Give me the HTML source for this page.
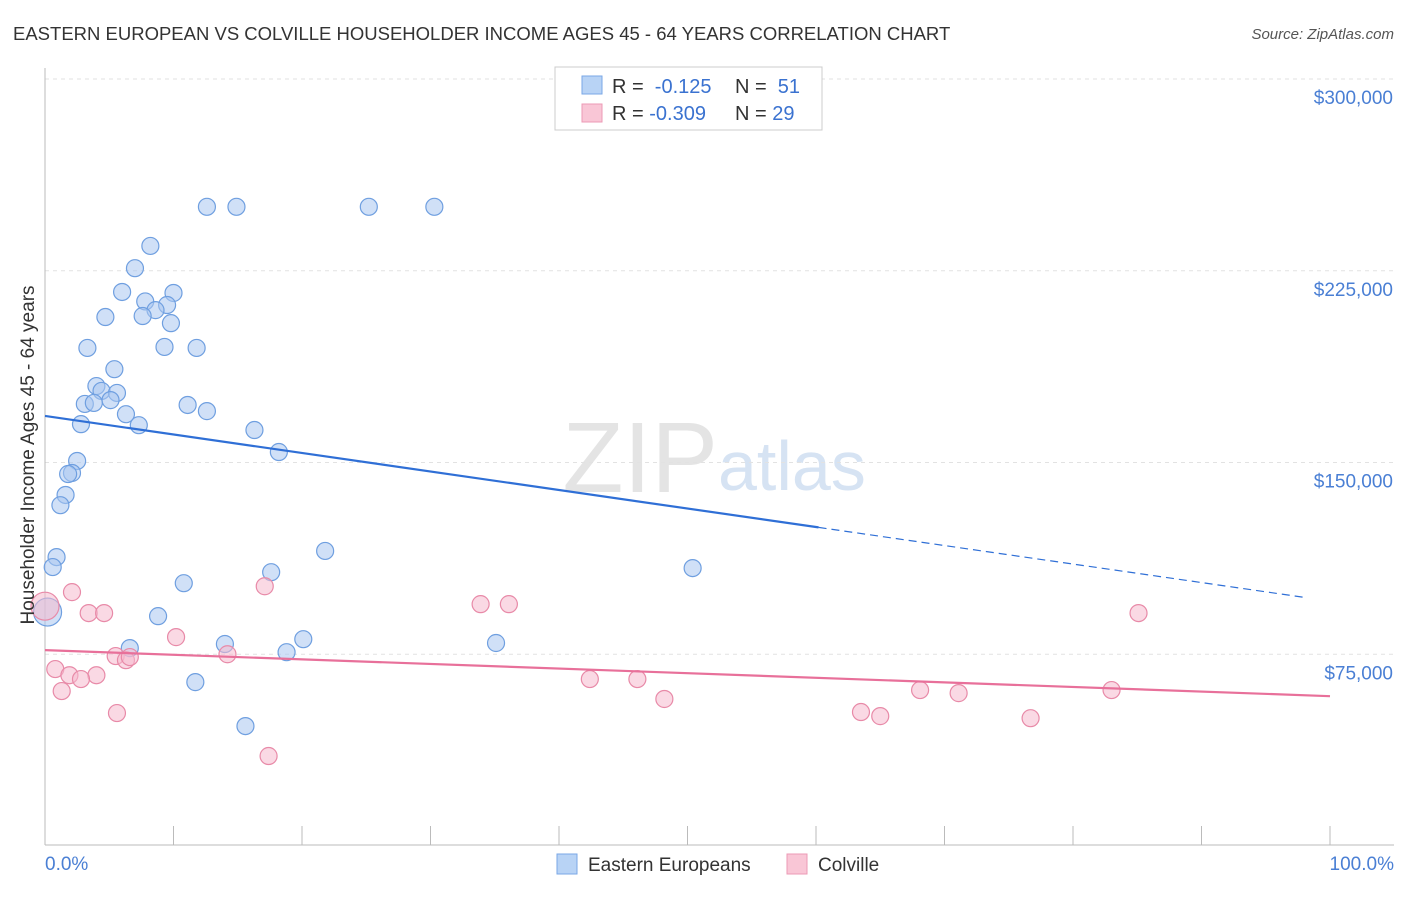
<!DOCTYPE html>
<html><head><meta charset="utf-8"><style>
body{margin:0;background:#fff;font-family:"Liberation Sans",Arial,sans-serif}
svg text{font-family:"Liberation Sans",Arial,sans-serif}
</style></head><body>
<svg id="c" width="1406" height="892" xmlns="http://www.w3.org/2000/svg">
<text x="13" y="40" font-size="18.5" fill="#333">EASTERN EUROPEAN VS COLVILLE HOUSEHOLDER INCOME AGES 45 - 64 YEARS CORRELATION CHART</text>
<text x="1394" y="39" font-size="15" fill="#555" text-anchor="end" font-style="italic">Source: ZipAtlas.com</text>
<text x="718" y="492" font-size="100" fill="#e4e4e4" text-anchor="end" font-family="Liberation Serif">ZIP</text>
<text x="718" y="490" font-size="70" fill="#d6e3f3">atlas</text>
<g id="grid"></g><g id="marks"></g>
<text transform="translate(34,455) rotate(-90)" font-size="19" fill="#333" text-anchor="middle">Householder Income Ages 45 - 64 years</text>
<text x="45" y="870" font-size="19" fill="#4a7fd4">0.0%</text>
<text x="1394" y="870" font-size="19" fill="#4a7fd4" text-anchor="end">100.0%</text>
<g>
<rect x="555" y="67" width="267" height="63" fill="#fff" stroke="#ccc"/>
<rect x="582" y="76" width="20" height="18" fill="#b8d3f5" stroke="#7aa7e6"/>
<rect x="582" y="104" width="20" height="18" fill="#f9c6d6" stroke="#ec9ab5"/>
<text x="612" y="93" font-size="20" fill="#333">R = <tspan fill="#3a72d0">&#160;-0.125</tspan><tspan x="735">N = </tspan><tspan fill="#3a72d0">&#160;51</tspan></text>
<text x="612" y="120" font-size="20" fill="#333">R = <tspan fill="#3a72d0">-0.309</tspan><tspan x="735">N = </tspan><tspan fill="#3a72d0">29</tspan></text>
</g>
<g>
<rect x="557" y="854" width="20" height="20" fill="#b8d3f5" stroke="#7aa7e6"/>
<text x="588" y="871" font-size="19" fill="#333">Eastern Europeans</text>
<rect x="787" y="854" width="20" height="20" fill="#f9c6d6" stroke="#ec9ab5"/>
<text x="818" y="871" font-size="19" fill="#333">Colville</text>
</g>
</svg>
<script>
const yTicks=[75000,150000,225000,300000];
const yTickLabels=["$75,000","$150,000","$225,000","$300,000"];
const blueX=[12.6,14.9,25.2,30.3,8.2,7.0,6.0,10.0,7.8,9.5,8.6,4.7,7.6,9.8,3.3,9.3,11.8,5.4,4.0,4.4,5.6,3.1,3.8,5.1,11.1,12.6,6.3,2.8,7.3,16.3,18.2,2.5,2.1,1.8,1.6,1.2,0.9,0.6,21.8,50.4,17.6,10.8,8.8,0.2,6.6,14.0,20.1,35.1,18.8,11.7,15.6];
const blueY=[250,250,250,250,234.7,226,216.7,216.3,213,211.6,209.6,206.9,207.3,204.5,194.8,195.2,194.8,186.5,179.9,178,177.2,172.9,173.3,174.4,172.5,170.1,168.9,165,164.6,162.7,154.1,150.6,145.9,145.5,137.3,133.3,113,109.1,115.4,108.7,107.1,102.8,89.9,91.5,77.4,79,80.9,79.4,75.8,64.1,46.9];
const pinkX=[0,2.1,3.4,4.6,0.8,1.9,4.0,2.8,1.3,5.6,5.5,6.3,6.6,10.2,14.2,17.1,17.4,33.9,36.1,42.4,46.1,48.2,63.5,65,68.1,71.1,76.7,83,85.1];
const pinkY=[93.8,99.3,91.1,91.1,69.2,66.8,66.8,65.3,60.6,52,74.3,72.7,73.9,81.7,75,101.6,35.2,94.6,94.6,65.3,65.3,57.5,52.4,50.8,61,59.8,50,61,91.1];
const blueTrend=[168.2,95.8]; const blueSolidEnd=60.2;
const pinkTrend=[76.6,58.6];
const NS="http://www.w3.org/2000/svg";
const X=p=>45+p*12.85, Y=v=>846-v*1000*767/300000;
const g=document.getElementById('grid'), m=document.getElementById('marks');
function mk(tag,a,parent){const e=document.createElementNS(NS,tag);for(const k in a)e.setAttribute(k,a[k]);parent.appendChild(e);return e;}
yTicks.forEach((t,i)=>{
 const l=mk('line',{x1:45,x2:1394,y1:Y(t/1000),y2:Y(t/1000),stroke:'#e2e2e2','stroke-dasharray':'4,4'},g);
 
 
 const tx=mk('text',{x:1393,y:Y(t/1000)+25,'font-size':19,fill:'#4a7fd4','text-anchor':'end'},g);
 tx.textContent=yTickLabels[i];
 
 
});
const ax=mk('line',{x1:45,x2:1394,y1:845,y2:845,stroke:'#bbb'},g);


const ay=mk('line',{x1:45,x2:45,y1:68,y2:845,stroke:'#bbb'},g);


for(let i=1;i<=10;i++){const t=mk('line',{x1:X(i*10),x2:X(i*10),y1:826,y2:845,stroke:'#bbb'},g);
 
 }
function pts(xs,ys,fill,stroke,name){xs.forEach((x,i)=>{
 const big=(x<0.3);
 const c=mk('circle',{cx:X(x),cy:Y(ys[i]),r:big?14:8.5,fill:fill,'fill-opacity':0.55,stroke:stroke,'stroke-width':1.2},m);
 
 });}
pts(blueX,blueY,'#a9c7f0','#6f9fe0','eastern-european-point');
pts(pinkX,pinkY,'#f6b9cd','#e88aa8','colville-point');
const bv=p=>blueTrend[0]+(blueTrend[1]-blueTrend[0])*p/100;
const b1=mk('line',{x1:X(0),y1:Y(bv(0)),x2:X(blueSolidEnd),y2:Y(bv(blueSolidEnd)),stroke:'#2f6fd6','stroke-width':2.2},m);


const b2=mk('line',{x1:X(blueSolidEnd),y1:Y(bv(blueSolidEnd)),x2:X(98),y2:Y(bv(98)),stroke:'#2f6fd6','stroke-width':1.2,'stroke-dasharray':'8,5'},m);


const pl=mk('line',{x1:X(0),y1:Y(pinkTrend[0]),x2:X(100),y2:Y(pinkTrend[1]),stroke:'#e8709a','stroke-width':2.2},m);


</script>
</body></html>
